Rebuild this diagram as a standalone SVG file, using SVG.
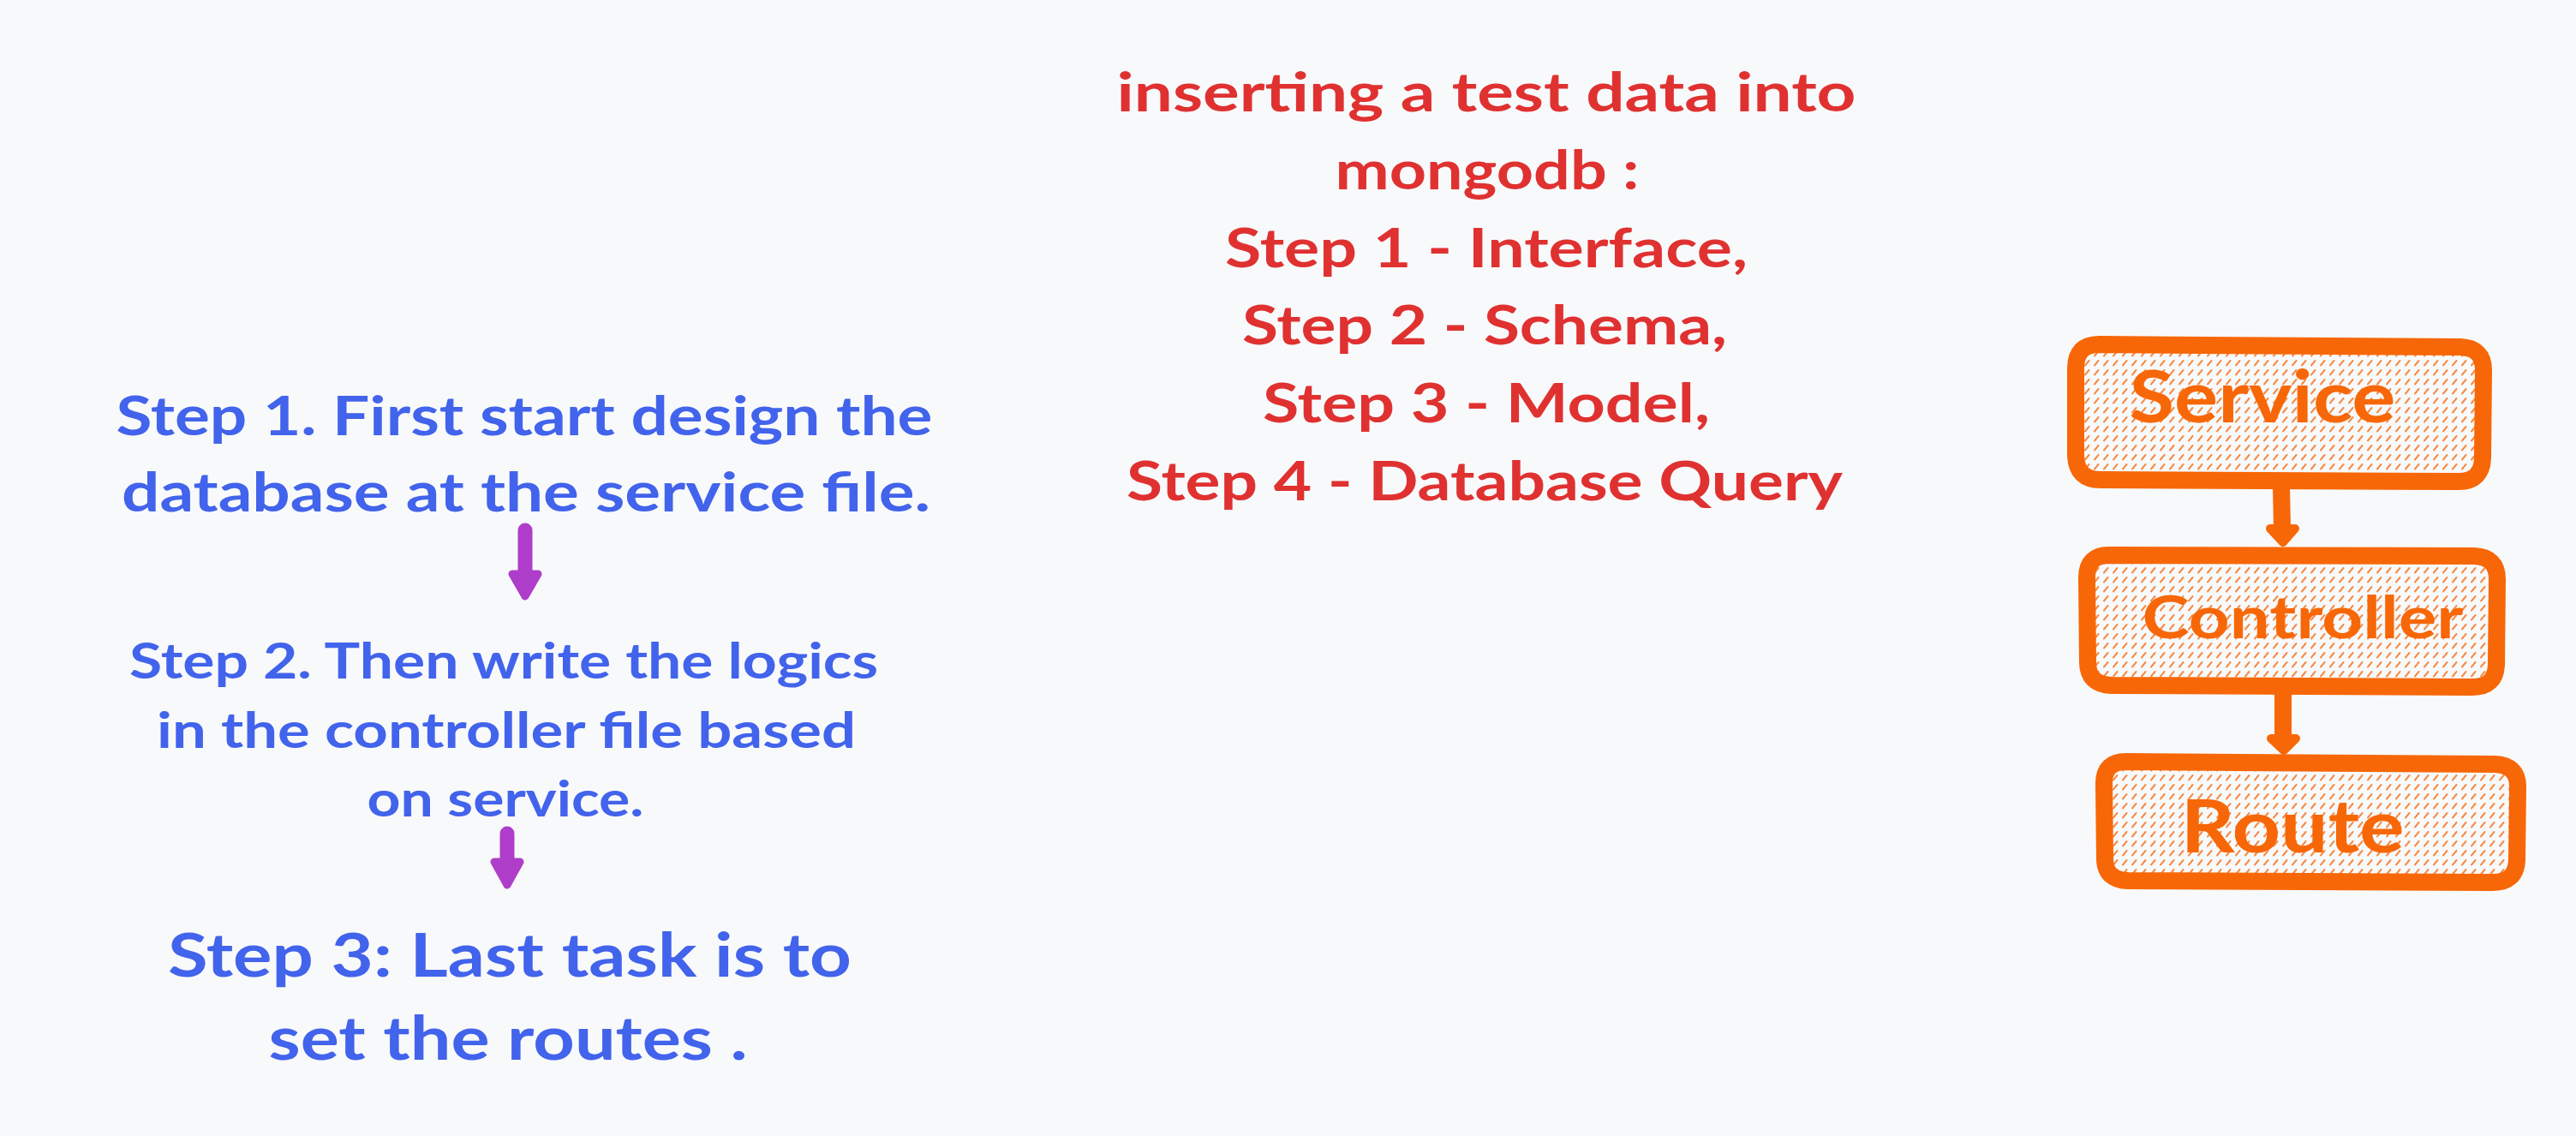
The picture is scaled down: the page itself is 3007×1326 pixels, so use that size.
<svg xmlns="http://www.w3.org/2000/svg" width="3007" height="1326" viewBox="0 0 3007 1326">
<style>
.blue{fill:#4263eb;font-family:Lato,"Liberation Sans",Arial,sans-serif;font-weight:700;text-anchor:middle}
.red{fill:#e03131;font-family:Lato,"Liberation Sans",Arial,sans-serif;font-weight:700;text-anchor:middle;font-size:63px}
.org{fill:#f76707;font-family:Lato,"Liberation Sans",Arial,sans-serif;font-weight:700;text-anchor:middle}
.box{fill:url(#hatch);stroke:#f76707;stroke-width:20;stroke-linejoin:round}
.oline{stroke:#f76707;stroke-width:20;fill:none;stroke-linecap:butt}
.ohead{fill:#f76707;stroke:#f76707;stroke-width:10;stroke-linejoin:round}
.pline{stroke:#ae3ec9;stroke-width:17;fill:none;stroke-linecap:round}
.phead{fill:#ae3ec9;stroke:#ae3ec9;stroke-width:9;stroke-linejoin:round}
</style>
<defs>
<pattern id="hatch" patternUnits="userSpaceOnUse" width="11" height="11">
<rect width="11" height="11" fill="#f8f9fb"/>
<line x1="3" y1="8.5" x2="7.5" y2="3" stroke="#f76707" stroke-width="2" stroke-linecap="round" opacity="0.75"/>
</pattern>
</defs>
<rect width="3007" height="1326" fill="#f8f9fb"/>

<g id="connectors">
<line class="oline" x1="2663" y1="568" x2="2664" y2="617"/>
<polygon class="ohead" points="2650,617 2679,617 2665,633"/>
<line class="oline" x1="2665" y1="808" x2="2665" y2="862"/>
<polygon class="ohead" points="2651,862 2680,862 2666,876"/>
<line class="pline" x1="613" y1="619" x2="613" y2="670"/>
<polygon class="phead" points="598,670 628,670 613,696"/>
<line class="pline" x1="592" y1="973" x2="592" y2="1006"/>
<polygon class="phead" points="577,1006 607,1006 592,1033"/>
</g>

<g id="service">
<path class="box" d="M2450,402 L2872,405 Q2899,406 2899,432 L2898,535 Q2897,562 2870,562 L2452,560 Q2424,560 2423,532 L2423,430 Q2423,402 2450,402 Z"/>
<text class="org" x="2641" y="493" font-size="84" textLength="311" lengthAdjust="spacingAndGlyphs">Service</text>
</g>
<g id="controller">
<path class="box" d="M2462,648 L2888,649 Q2915,650 2915,676 L2914,776 Q2913,802 2886,802 L2465,800 Q2437,799 2437,773 L2436,674 Q2436,648 2462,648 Z"/>
<text class="org" x="2688" y="745" font-size="68" textLength="375" lengthAdjust="spacingAndGlyphs">Controller</text>
</g>
<g id="route">
<path class="box" d="M2482,889 L2912,892 Q2939,893 2939,918 L2938,1004 Q2937,1030 2910,1030 L2484,1028 Q2457,1027 2457,1002 L2456,914 Q2456,889 2482,889 Z"/>
<text class="org" x="2676" y="995" font-size="86" textLength="261" lengthAdjust="spacingAndGlyphs">Route</text>
</g>

<g id="mongo-steps">
<text class="red" x="1735" y="130" textLength="863" lengthAdjust="spacingAndGlyphs">inserting a test data into</text>
<text class="red" x="1736" y="221" textLength="355" lengthAdjust="spacingAndGlyphs">mongodb :</text>
<text class="red" x="1735" y="312" textLength="610" lengthAdjust="spacingAndGlyphs">Step 1 - Interface,</text>
<text class="red" x="1733" y="402" textLength="566" lengthAdjust="spacingAndGlyphs">Step 2 - Schema,</text>
<text class="red" x="1735" y="493" textLength="522" lengthAdjust="spacingAndGlyphs">Step 3 - Model,</text>
<text class="red" x="1733" y="584" textLength="836" lengthAdjust="spacingAndGlyphs">Step 4 - Database Query</text>
</g>

<g id="step1">
<text class="blue" font-size="64" x="612" y="508" textLength="953" lengthAdjust="spacingAndGlyphs">Step 1. First start design the</text>
<text class="blue" font-size="64" x="614" y="597" textLength="944" lengthAdjust="spacingAndGlyphs">database at the service file.</text>
</g>
<g id="step2">
<text class="blue" font-size="57" x="588" y="792" textLength="874" lengthAdjust="spacingAndGlyphs">Step 2. Then write the logics</text>
<text class="blue" font-size="57" x="591" y="873" textLength="816" lengthAdjust="spacingAndGlyphs">in the controller file based</text>
<text class="blue" font-size="57" x="590" y="953" textLength="323" lengthAdjust="spacingAndGlyphs">on service.</text>
</g>
<g id="step3">
<text class="blue" font-size="71" x="595" y="1140" textLength="798" lengthAdjust="spacingAndGlyphs">Step 3: Last task is to</text>
<text class="blue" font-size="71" x="593" y="1237" textLength="559" lengthAdjust="spacingAndGlyphs">set the routes .</text>
</g>
</svg>
